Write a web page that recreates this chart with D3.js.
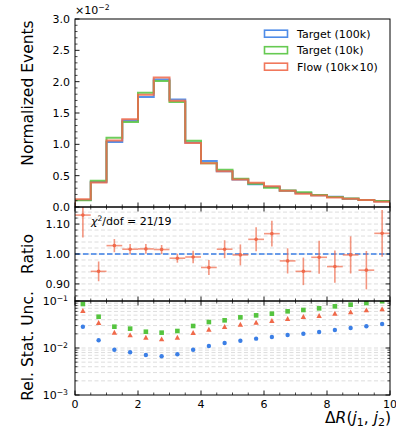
<!DOCTYPE html>
<html><head><meta charset="utf-8">
<script src="https://cdn.jsdelivr.net/npm/d3@7"></script>
<style>body{margin:0;background:#fff}svg{display:block}text{font-family:"DejaVu Sans",sans-serif;fill:#000}</style>
</head><body><svg id="c" width="396" height="432"></svg>
<script>
const binEdges = [0,0.5,1,1.5,2,2.5,3,3.5,4,4.5,5,5.5,6,6.5,7,7.5,8,8.5,9,9.5,10];
const binCenters = [0.25,0.75,1.25,1.75,2.25,2.75,3.25,3.75,4.25,4.75,5.25,5.75,6.25,6.75,7.25,7.75,8.25,8.75,9.25,9.75];
// Normalized events (x1e-2)
const target100k = [0.110,0.400,1.037,1.380,1.754,2.036,1.717,1.030,0.734,0.570,0.440,0.362,0.320,0.260,0.222,0.186,0.165,0.133,0.112,0.092];
const target10k  = [0.107,0.420,1.105,1.356,1.823,2.010,1.675,1.058,0.700,0.595,0.450,0.370,0.308,0.262,0.234,0.190,0.158,0.135,0.110,0.096];
const flow10k    = [0.123,0.390,1.063,1.400,1.790,2.068,1.695,1.020,0.700,0.570,0.440,0.388,0.330,0.258,0.212,0.184,0.150,0.131,0.112,0.085];
// Ratio panel
const ratio    = [1.130,0.942,1.028,1.016,1.017,1.015,0.986,0.990,0.955,1.016,0.997,1.049,1.068,0.977,0.942,0.989,0.958,0.997,0.946,1.069];
const ratioErr = [0.075,0.033,0.022,0.017,0.016,0.015,0.015,0.021,0.025,0.030,0.035,0.040,0.043,0.042,0.046,0.055,0.054,0.062,0.064,0.078];
// Relative statistical uncertainty
const uncTarget100k = [0.0284,0.0146,0.0092,0.0081,0.0071,0.00666,0.00734,0.0092,0.0110,0.0128,0.0143,0.0158,0.0171,0.0189,0.0201,0.0219,0.0241,0.0267,0.0290,0.0324];
const uncTarget10k  = [0.0863,0.0463,0.0284,0.0258,0.0222,0.0212,0.0230,0.0294,0.0357,0.0388,0.0449,0.0495,0.0537,0.0603,0.0644,0.0698,0.0770,0.0835,0.0906,0.0990];
const uncFlow       = [0.0612,0.0340,0.0212,0.0186,0.0166,0.0153,0.0166,0.0209,0.0245,0.0280,0.0313,0.0345,0.0375,0.0414,0.0457,0.0480,0.0537,0.0575,0.0634,0.0665];
const legendLabels = ["Target (100k)","Target (10k)","Flow (10k\u00d710)"];
const xTicks = [0,2,4,6,8,10];
const topTicks = [0,0.5,1.0,1.5,2.0,2.5,3.0];
const ratioTicks = [0.90,1.00,1.10];

const C = {blue:"#3b7fe6", green:"#55c43f", orange:"#f0694a"};
const svg = d3.select("#c");
const L = 75, R = 390;
const P1 = [19, 207], P2 = [207, 301], P3 = [301, 395];
const x = d3.scaleLinear().domain([0,10]).range([L,R]);
const y1 = d3.scaleLinear().domain([0,3]).range([P1[1],P1[0]]);
const y2 = d3.scaleLinear().domain([0.843,1.157]).range([P2[1],P2[0]]);
const y3 = d3.scaleLog().domain([1e-3,1e-1]).range([P3[1],P3[0]]);

const defs = svg.append("defs");
[["c1",P1],["c2",P2],["c3",P3]].forEach(([id,p])=>{
  defs.append("clipPath").attr("id",id).append("rect").attr("x",L).attr("y",p[0]).attr("width",R-L).attr("height",p[1]-p[0]);
});

// grids
const g2 = svg.append("g");
const ratioMinor = d3.range(0.86,1.16,0.02).map(v=>+v.toFixed(2));
ratioMinor.forEach(v=>{ if(v>0.843 && v<1.157) g2.append("line").attr("x1",L).attr("x2",R).attr("y1",y2(v)).attr("y2",y2(v)).attr("stroke","#d4d4d4").attr("stroke-width",0.8).attr("stroke-dasharray","4,2.5");});
const logMinor = [];
[1e-3,1e-2].forEach(d=>{for(let k=2;k<=9;k++) logMinor.push(d*k);});
const g3 = svg.append("g");
logMinor.concat([1e-2]).forEach(v=>g3.append("line").attr("x1",L).attr("x2",R).attr("y1",y3(v)).attr("y2",y3(v)).attr("stroke","#d4d4d4").attr("stroke-width",0.8).attr("stroke-dasharray","4,2.5"));

// histograms
function stepPath(vals){
  let p = `M${x(binEdges[0])},${y1(0)}`;
  vals.forEach((v,i)=>{ p += `V${y1(v)}H${x(binEdges[i+1])}`; });
  p += `V${y1(0)}`;
  return p;
}
const gh = svg.append("g").attr("clip-path","url(#c1)");
[[target100k,C.blue],[target10k,C.green],[flow10k,C.orange]].forEach(([v,c])=>{
  gh.append("path").attr("d",stepPath(v)).attr("fill","none").attr("stroke",c).attr("stroke-width",2).attr("stroke-opacity",0.85);
});

// ratio
const gr = svg.append("g").attr("clip-path","url(#c2)");
gr.append("line").attr("x1",L).attr("x2",R).attr("y1",y2(1)).attr("y2",y2(1)).attr("stroke",C.blue).attr("stroke-width",1.5).attr("stroke-dasharray","5.5,2.5");
binCenters.forEach((c,i)=>{
  gr.append("line").attr("x1",x(c)).attr("x2",x(c)).attr("y1",y2(ratio[i]-ratioErr[i])).attr("y2",y2(ratio[i]+ratioErr[i])).attr("stroke",C.orange).attr("stroke-width",1.6).attr("stroke-opacity",0.7);
  gr.append("line").attr("x1",x(binEdges[i])).attr("x2",x(binEdges[i+1])).attr("y1",y2(ratio[i])).attr("y2",y2(ratio[i])).attr("stroke",C.orange).attr("stroke-width",1.6).attr("stroke-opacity",0.7);
  gr.append("circle").attr("cx",x(c)).attr("cy",y2(ratio[i])).attr("r",1.8).attr("fill",C.orange);
});
const chi = svg.append("text").attr("x",91).attr("y",225).attr("font-size",11);
chi.append("tspan").attr("font-style","italic").text("\u03c7");
chi.append("tspan").attr("font-size",7.5).attr("dy",-4.5).text("2");
chi.append("tspan").attr("dy",4.5).text("/dof = 21/19");

// uncertainty
const gu = svg.append("g").attr("clip-path","url(#c3)");
binCenters.forEach((c,i)=>{
  gu.append("rect").attr("x",x(c)-2.3).attr("y",y3(uncTarget10k[i])-2.3).attr("width",4.6).attr("height",4.6).attr("fill",C.green);
  const yy = y3(uncFlow[i]);
  gu.append("path").attr("d",`M${x(c)},${yy-2.9}L${x(c)+2.7},${yy+2}L${x(c)-2.7},${yy+2}Z`).attr("fill",C.orange);
  gu.append("circle").attr("cx",x(c)).attr("cy",y3(uncTarget100k[i])).attr("r",2.2).attr("fill",C.blue);
});

// frames & ticks
function frame(p){ svg.append("rect").attr("x",L).attr("y",p[0]).attr("width",R-L).attr("height",p[1]-p[0]).attr("fill","none").attr("stroke","#000").attr("stroke-width",1); }
function tick(x1,y1_,x2,y2_,w){ svg.append("line").attr("x1",x1).attr("y1",y1_).attr("x2",x2).attr("y2",y2_).attr("stroke","#000").attr("stroke-width",w||0.8); }
const xMinor = [1,3,5,7,9].concat([0.5,1.5,2.5,3.5,4.5,5.5,6.5,7.5,8.5,9.5]);
function xTickRow(yy, dir){ // dir -1 up, +1 down
  xTicks.forEach(v=>tick(x(v),yy,x(v),yy+dir*4.5,0.9));
  xMinor.forEach(v=>tick(x(v),yy,x(v),yy+dir*2.5,0.7));
}
// top panel
xTickRow(P1[1],-1);
topTicks.forEach(v=>{ tick(L,y1(v),L+4.5,y1(v),0.9);
  svg.append("text").attr("x",70).attr("y",y1(v)).attr("dy","0.35em").attr("text-anchor","end").attr("font-size",11).text(v.toFixed(1)); });
d3.range(1,30).map(k=>k/10).forEach(v=>{ if(Math.abs(v*2-Math.round(v*2))>1e-6) tick(L,y1(v),L+2.5,y1(v),0.7); });
// ratio panel
xTickRow(P2[0],1); xTickRow(P2[1],-1);
ratioTicks.forEach(v=>{ tick(L,y2(v),L+4.5,y2(v),0.9); tick(R,y2(v),R-4.5,y2(v),0.9);
  svg.append("text").attr("x",70).attr("y",y2(v)).attr("dy","0.35em").attr("text-anchor","end").attr("font-size",11).text(v.toFixed(2)); });
ratioMinor.forEach(v=>{ if(v>0.843&&v<1.157&&!ratioTicks.some(t=>Math.abs(t-v)<1e-6)){ tick(L,y2(v),L+2.5,y2(v),0.7); tick(R,y2(v),R-2.5,y2(v),0.7);} });
// log panel
xTickRow(P3[0],1); xTickRow(P3[1],-1);
[1e-3,1e-2,1e-1].forEach((v,i)=>{ tick(L,y3(v),L+4.5,y3(v),0.9); tick(R,y3(v),R-4.5,y3(v),0.9);
  const t = svg.append("text").attr("x",68).attr("y",y3(v)+4).attr("text-anchor","end").attr("font-size",11);
  t.append("tspan").text("10");
  t.append("tspan").attr("font-size",7.7).attr("dy",-4.5).text("\u2212"+(3-i)); });
logMinor.forEach(v=>{ tick(L,y3(v),L+2.5,y3(v),0.7); tick(R,y3(v),R-2.5,y3(v),0.7); });
frame(P1); frame(P2); frame(P3);

// x tick labels
xTicks.forEach(v=>svg.append("text").attr("x",x(v)).attr("y",408).attr("text-anchor","middle").attr("font-size",11).text(v));
// x label
const xl = svg.append("text").attr("x",391).attr("y",423).attr("text-anchor","end").attr("font-size",15.5);
xl.append("tspan").text("\u0394");
xl.append("tspan").attr("font-style","italic").text("R");
xl.append("tspan").text("(");
xl.append("tspan").attr("font-style","italic").text("j");
xl.append("tspan").attr("font-size",11).attr("dy",3).text("1");
xl.append("tspan").attr("dy",-3).text(", ");
xl.append("tspan").attr("font-style","italic").text("j");
xl.append("tspan").attr("font-size",11).attr("dy",3).text("2");
xl.append("tspan").attr("dy",-3).text(")");

// y labels
function ylab(txt,cy){ svg.append("text").attr("transform",`translate(33,${cy}) rotate(-90)`).attr("text-anchor","middle").attr("font-size",15.5).text(txt); }
ylab("Normalized Events",93);
ylab("Ratio",254);
ylab("Rel. Stat. Unc.",346);

// offset text
const off = svg.append("text").attr("x",75).attr("y",14).attr("font-size",11);
off.append("tspan").text("\u00d710");
off.append("tspan").attr("font-size",7.7).attr("dy",-4.5).text("\u22122");

// legend
const lg = svg.append("g");
[C.blue,C.green,C.orange].forEach((c,i)=>{
  const yy = 33.7 + i*16.5;
  lg.append("rect").attr("x",264.5).attr("y",yy-3.5).attr("width",23).attr("height",7).attr("fill","none").attr("stroke",c).attr("stroke-width",1.6).attr("stroke-opacity",0.9);
  lg.append("text").attr("x",297).attr("y",yy).attr("dy","0.37em").attr("font-size",11).text(legendLabels[i]);
});
</script></body></html>
